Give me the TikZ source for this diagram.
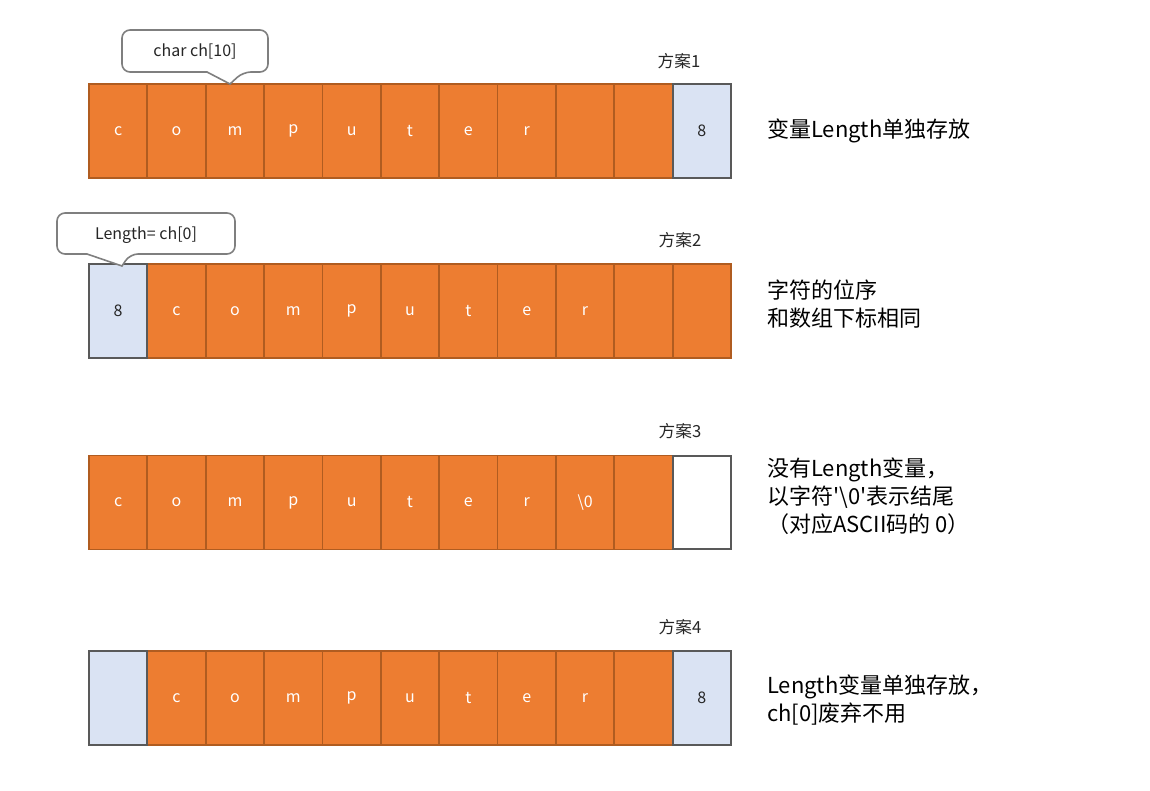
\documentclass[tikz,border=0pt]{standalone}
\usepackage{fontspec}
\setmainfont{Noto Sans CJK SC}
\definecolor{orangeF}{HTML}{ED7D31}
\definecolor{orangeD}{HTML}{B05C20}
\definecolor{blueF}{HTML}{DAE3F3}
\definecolor{grayD}{HTML}{595959}
\definecolor{grayC}{HTML}{7F7F7F}
\definecolor{txt}{HTML}{262626}
\tikzset{
  cellbase/.style={minimum width=43.77pt, minimum height=70.5pt, inner sep=0pt, line width=1.3pt, font=\fontsize{12}{13}\selectfont},
  ocell/.style={cellbase, fill=orangeF, draw=orangeD, text=white},
  bcell/.style={cellbase, fill=blueF, draw=grayD, text=txt},
  wcell/.style={cellbase, fill=white, draw=grayD},
  plan/.style={font=\fontsize{12.5}{14}\selectfont, text=txt},
  note/.style={font=\fontsize{16.5}{21}\selectfont, text=black, align=left, anchor=west, inner sep=0pt},
  callout/.style={draw=grayC, line width=1.2pt, fill=white},
  callouttext/.style={font=\fontsize{12}{13}\selectfont, text=txt},
}
\begin{document}
\begin{tikzpicture}[x=0.75pt,y=-0.75pt]
\useasboundingbox (0,0) rectangle (1150,791);
\def\cw{58.364}
% ---------- Row 1 ----------
\foreach \i/\lab in {0/c,1/o,2/m,3/p,4/u,5/t,6/e,7/r,8/{},9/{}}
  \node[ocell] (a\i) at ({89+\cw*(\i+0.5)},131) {\lab};
\node[bcell] (a10) at ({89+\cw*10.5},131) {8};
\node[plan] (p1) at (679,61) {方案1};
\node[note] (n1) at (767,131) {变量Length单独存放};
% callout 1
\draw[callout] (195,30) [rounded corners=6pt] -- (268,30) -- (268,72) -- (243,72) [sharp corners] -- (230,84) -- (207,72) [rounded corners=6pt] -- (122,72) -- (122,30) -- cycle;
\node[callouttext] (c1) at (195,51) {char ch[10]};
% ---------- Row 2 ----------
\foreach \i/\lab in {1/c,2/o,3/m,4/p,5/u,6/t,7/e,8/r,9/{},10/{}}
  \node[ocell] (b\i) at ({89+\cw*(\i+0.5)},311) {\lab};
\node[bcell] (b0) at ({89+\cw*0.5},311) {8};
\node[plan] (p2) at (680,240) {方案2};
\node[note] (n2) at (767,304) {字符的位序\\和数组下标相同};
% callout 2
\draw[callout] (146,213) [rounded corners=6pt] -- (235,213) -- (235,254) -- (130,254) [sharp corners] -- (122,266) -- (87,254) [rounded corners=6pt] -- (57,254) -- (57,213) -- cycle;
\node[callouttext] (c2) at (146,235) {Length= ch[0]};
% ---------- Row 3 ----------
\foreach \i/\lab in {0/c,1/o,2/m,3/p,4/u,5/t,6/e,7/r,8/\textbackslash 0,9/{}}
  \node[ocell] (d\i) at ({89+\cw*(\i+0.5)},502.5) {\lab};
\node[wcell, minimum height=69.75pt] (d10) at ({89+\cw*10.5},502.5) {};
\node[plan] (p3) at (680,431) {方案3};
\node[note] (n3) at (767,496) {没有Length变量，\\以字符\textquotesingle\textbackslash 0\textquotesingle 表示结尾\\（对应ASCII码的 0）};
% ---------- Row 4 ----------
\foreach \i/\lab in {1/c,2/o,3/m,4/p,5/u,6/t,7/e,8/r,9/{}}
  \node[ocell] (e\i) at ({89+\cw*(\i+0.5)},698) {\lab};
\node[bcell] (e0) at ({89+\cw*0.5},698) {};
\node[bcell] (e10) at ({89+\cw*10.5},698) {8};
\node[plan] (p4) at (680,627) {方案4};
\node[note] (n4) at (767,700) {Length变量单独存放，\\ch[0]废弃不用};
\end{tikzpicture}
\end{document}
